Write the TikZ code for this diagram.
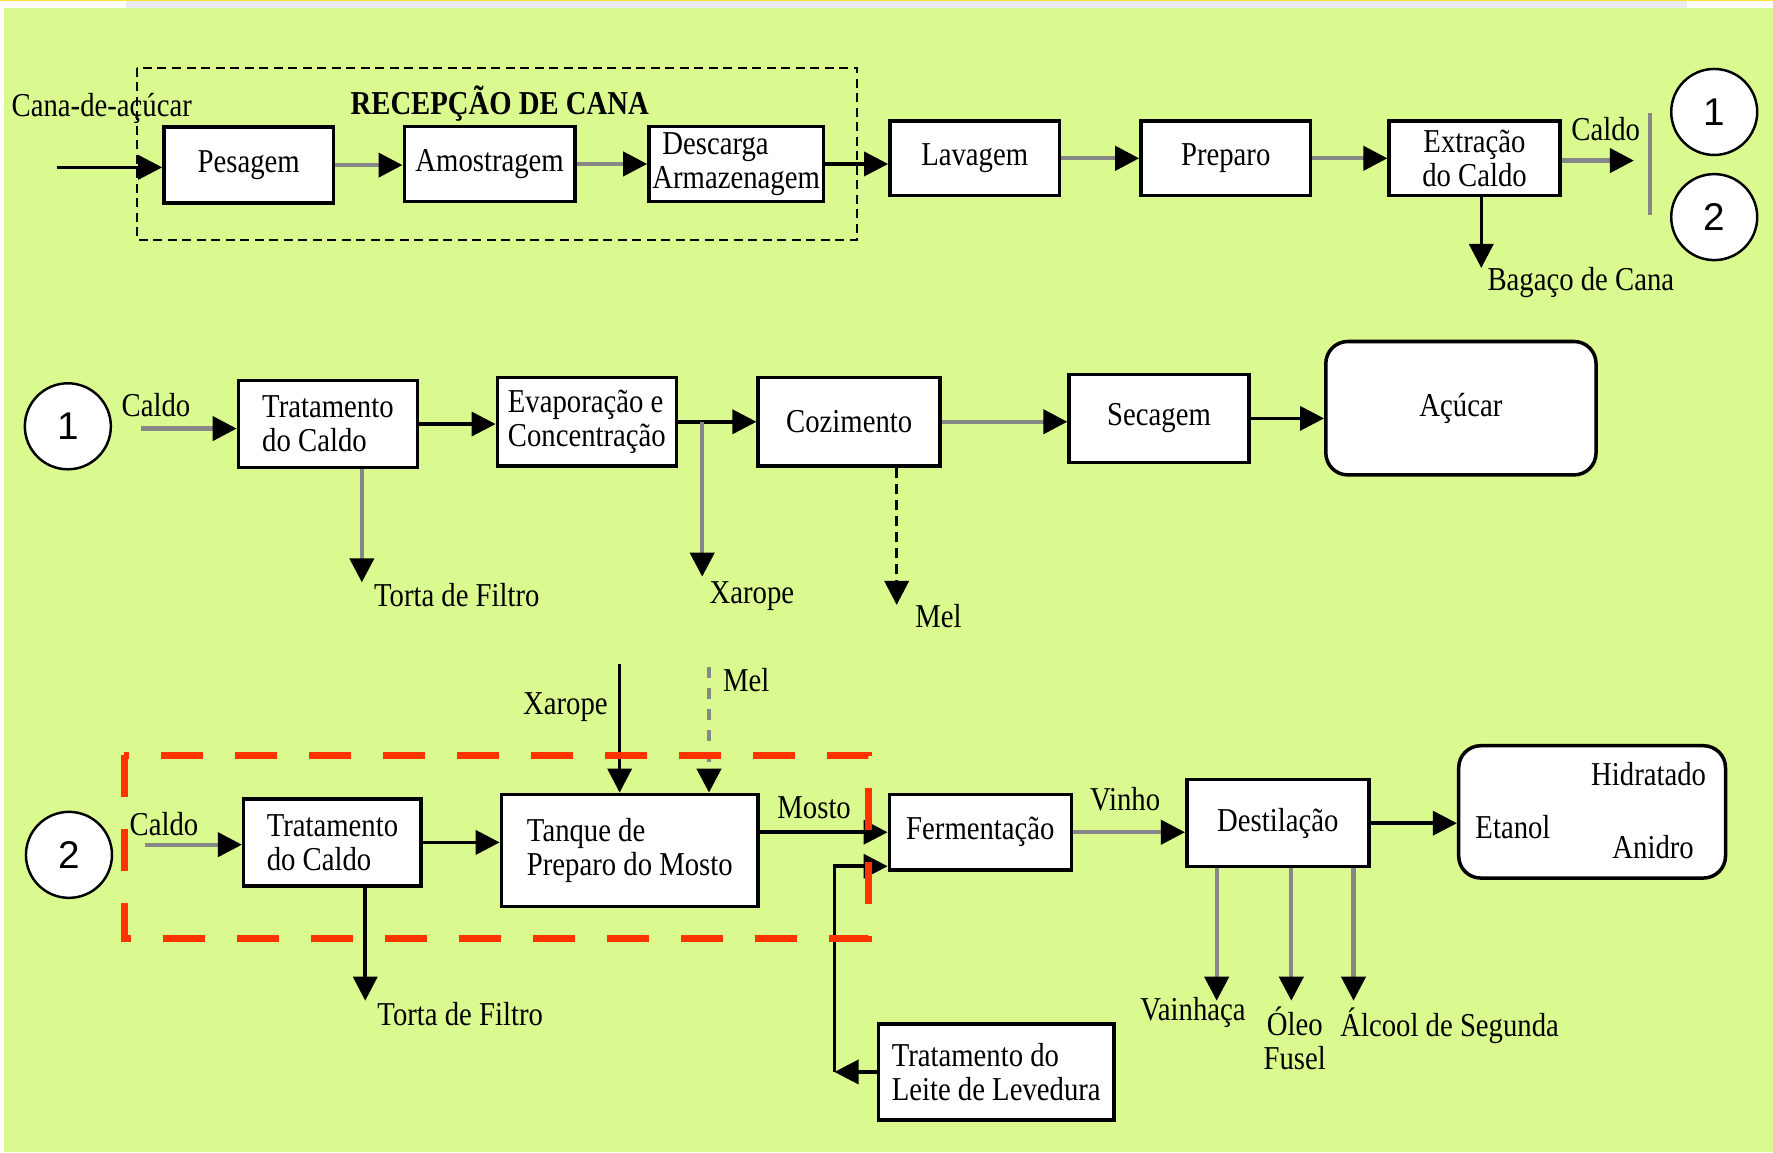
\documentclass[tikz,border=0pt]{standalone}
\usepackage{fontspec}
\setmainfont{Liberation Serif}[FakeStretch=0.86]
\newfontfamily\numfont{Liberation Sans}
\usetikzlibrary{shapes,shapes.geometric,arrows.meta}
\definecolor{fundo}{RGB}{218,249,142}
\definecolor{faixa}{RGB}{232,236,238}
\definecolor{amarelo}{RGB}{250,225,50}
\definecolor{cinza}{RGB}{135,135,135}
\definecolor{verm}{RGB}{255,51,0}
\newcommand\txtfont{\fontsize{9.5}{9.7}\selectfont}
\tikzset{
  caixa_n/.style = {draw=black, fill=white, line width=1pt, align=left, inner sep=1pt,
    minimum width=17.9mm, minimum height=8.7mm, font=\txtfont},
  caixa_r/.style = {caixa_n, rounded corners=2.2mm},
  circ_n/.style = {circle, draw=black, line width=0.7pt, fill=white, minimum size=8.6mm,
    inner sep=0pt, font=\numfont\fontsize{11}{11}\selectfont},
  rot/.style = {inner sep=0pt, align=center, font=\txtfont},
  seta_k/.style = {draw=black, line width=1pt, -{Triangle[length=2.4mm,width=2.4mm,color=black]}},
  seta_g/.style = {seta_k, draw=cinza, line width=1.2pt}
}

\begin{document}
\begin{tikzpicture}[x=0.11307mm, y=-0.11307mm]
\useasboundingbox (0,0) rectangle (1568,1019);
% fundo
\fill[white] (0,0) rectangle (1568,1019);
\fill[fundo] (3.5,7) rectangle (1568,1019);
\fill[faixa] (111,1) rectangle (1492,7);
\fill[amarelo] (0,0) rectangle (1568,1.2);

% recepcao de cana
\draw[black, line width=0.6pt, dash pattern=on 0.9mm off 0.55mm] (121,60) rectangle (758,212);
\node[rot] (t_cana) at (90,96) {Cana-de-açúcar};
\node[rot, font=\txtfont\bfseries] (t_recep) at (442,92) {RECEPÇÃO DE CANA};
\node[caixa_n, minimum width=16.96mm, minimum height=7.58mm] (pes) at (220,146) {Pesagem};
\node[caixa_n, minimum width=17.07mm, minimum height=7.46mm] (amo) at (433,145) {Amostragem};
\node[caixa_n, minimum width=17.07mm, minimum height=7.46mm] (desc) at (651,145) {\hspace{1mm}Descarga\\Armazenagem};
\node[caixa_n, minimum width=16.96mm, minimum height=7.46mm] (lav) at (862,140) {Lavagem};
\node[caixa_n, minimum width=16.96mm, minimum height=7.46mm] (prep) at (1084,140) {Preparo};
\node[caixa_n, minimum width=17.07mm, minimum height=7.46mm, align=center] (ext) at (1304,140) {Extração\\do Caldo};
\node[circ_n] (c1a) at (1516,99) {1};
\node[circ_n] (c2a) at (1516,192) {2};
\node[rot] (t_cal1) at (1420,114) {Caldo};
\node[rot] (t_bag) at (1398,250) {Bagaço de Cana};

\coordinate (ent) at (50,148);
\coordinate (cal_fim) at (1445,142);
\coordinate (bag_fim) at (1310,237);
\draw[seta_k] (ent) -- (ent -| pes.west);
\draw[seta_g] (pes.east) -- (pes.east -| amo.west);
\draw[seta_g] (amo.east) -- (amo.east -| desc.west);
\draw[seta_k] (desc.east) -- (desc.east -| lav.west);
\draw[seta_g] (lav) -- (prep);
\draw[seta_g] (prep) -- (ext);
\draw[seta_g] (ext.east |- cal_fim) -- (cal_fim);
\draw[seta_k] (ext.south -| bag_fim) -- (bag_fim);
\draw[cinza, line width=1.2pt] (1459,100) -- (1459,190);

% linha do acucar
\node[circ_n] (c1b) at (60,377) {1};
\node[rot] (t_cal2) at (138,358) {Caldo};
\node[caixa_n] (tr1) at (290,375) {Tratamento\\do Caldo};
\node[caixa_n, minimum height=8.82mm] (evap) at (519,373) {Evaporação e\\Concentração};
\node[caixa_n, minimum width=18.2mm, minimum height=8.82mm] (coz) at (751,373) {Cozimento};
\node[caixa_n, minimum width=17.98mm, minimum height=8.82mm] (sec) at (1025,370) {Secagem};
\node[caixa_r, minimum width=27.02mm, minimum height=13.34mm] (acu) at (1292,361) {Açúcar};
\node[rot] (t_tor1) at (404,526) {Torta de Filtro};
\node[rot] (t_xar1) at (665,527) {Xarope};
\node[rot] (t_mel1) at (830,545) {Mel};

\coordinate (c1_sai) at (125,379);
\coordinate (xar1_fim) at (621,510);
\coordinate (mel1_fim) at (793,535);
\coordinate (tor1_fim) at (320,515);
\draw[seta_g] (c1_sai) -- (c1_sai -| tr1.west);
\draw[seta_k] (tr1.east) -- (tr1.east -| evap.west);
\draw[seta_k] (evap.east) -- (evap.east -| coz.west);
\draw[seta_g] (xar1_fim |- evap.east) -- (xar1_fim);
\draw[seta_g] (coz.east) -- (coz.east -| sec.west);
\draw[seta_k] (sec.east) -- (sec.east -| acu.west);
\draw[seta_k, dash pattern=on 1mm off 0.6mm] (mel1_fim |- coz.south) -- (mel1_fim);
\draw[seta_g] (tor1_fim |- tr1.south) -- (tor1_fim);

% linha do etanol
\node[circ_n] (c2b) at (61,756) {2};
\node[rot] (t_cal3) at (145,729) {Caldo};
\node[caixa_n, minimum width=17.75mm] (tr2) at (294,745) {Tratamento\\do Caldo};
\node[caixa_n, minimum width=25.67mm, minimum height=11.19mm] (tan) at (557,752) {Tanque de\\Preparo do Mosto};
\node[caixa_n, minimum width=18.2mm, minimum height=7.58mm] (fer) at (867,736) {Fermentação};
\node[caixa_n, minimum width=18.2mm] (des) at (1130,728) {Destilação};
\node[caixa_r, minimum width=26.68mm, minimum height=13.23mm] (eta) at (1408,718) {};
\node[caixa_n, minimum width=23.52mm, minimum height=9.61mm] (lei) at (881,948) {Tratamento do\\Leite de Levedura};
\node[rot] (t_xar2) at (500,625) {Xarope};
\node[rot] (t_mel2) at (660,601) {Mel};
\node[rot] (t_mos) at (720,714) {Mosto};
\node[rot] (t_vin) at (995,707) {Vinho};
\node[rot] (t_tor2) at (407,897) {Torta de Filtro};
\node[rot] (t_vai) at (1055,895) {Vainhaça};
\node[rot] (t_ole) at (1145,918) {Óleo\\Fusel};
\node[rot] (t_alc) at (1282,907) {Álcool de Segunda};
\node[rot] (t_hid) at (1458,685) {Hidratado};
\node[rot] (t_eta) at (1338,731) {Etanol};
\node[rot] (t_ani) at (1462,749) {Anidro};

\coordinate (c2_sai) at (128,747);
\coordinate (xar2_ini) at (548,587);
\coordinate (mel2_ini) at (627,590);
\coordinate (ret) at (738,948);
\coordinate (tor2_fim) at (323,885);
\draw[seta_g] (c2_sai) -- (c2_sai -| tr2.west);
\draw[seta_k] (tr2.east) -- (tr2.east -| tan.west);
\draw[seta_k] (xar2_ini) -- (xar2_ini |- tan.north);
\draw[seta_g, dashed] (mel2_ini) -- (mel2_ini |- tan.north);
\draw[seta_k] (tan.east |- fer.west) -- (fer.west);
\draw[seta_k] (lei.west) -- (ret);
\draw[seta_k] (ret) |- ([yshift=-3.4mm]fer.west);
\draw[seta_g] (fer.east) -- (fer.east -| des.west);
\draw[seta_k] (des.east) -- (des.east -| eta.west);
\foreach \x/\n in {1076/vai, 1142/ole, 1197/alc} {
  \coordinate (\n_fim) at (\x,885);
  \draw[seta_g] (\n_fim |- des.south) -- (\n_fim);
}
\draw[seta_k] (tor2_fim |- tr2.south) -- (tor2_fim);

% area destacada
\draw[verm, line width=1.9pt, dash pattern=on 4.2mm off 3.2mm] (110,668) rectangle (768,830);
\end{tikzpicture}
\end{document}
